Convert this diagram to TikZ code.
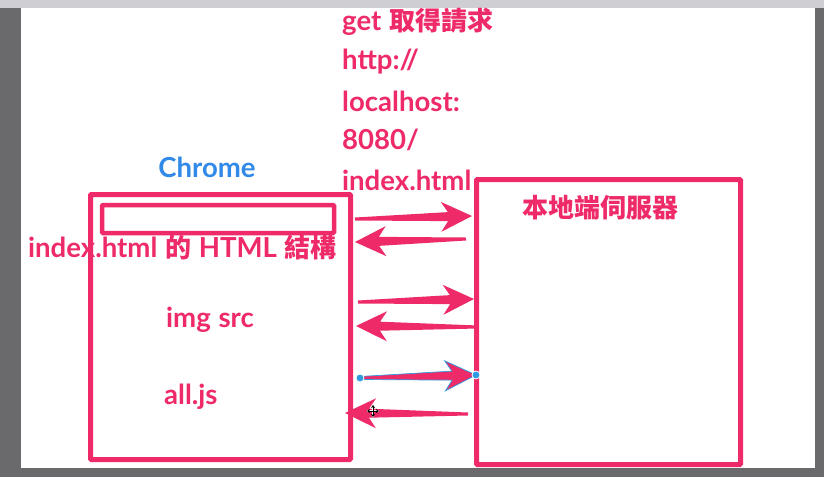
\documentclass[tikz,border=0pt]{standalone}
\usepackage{fontspec}
\setmainfont{Lato}[Scale=1.06, WordSpace=1.15]
\newfontfamily\cjk{Noto Sans CJK TC}
\usetikzlibrary{arrows.meta,positioning,calc}
\definecolor{rose}{RGB}{238,42,104}
\definecolor{chromeblue}{RGB}{50,138,232}
\definecolor{selblue}{RGB}{46,155,224}
\definecolor{deskgray}{RGB}{106,105,108}
\definecolor{bargray}{RGB}{207,206,211}

% tapered keynote-like arrow from #2 (tail) to #3 (tip)
\newcommand{\fatarrow}[3][]{%
  \fill[rose,#1] ($(#2)!1.5pt!90:(#3)$)
    -- ($($(#3)!24pt!(#2)$)!4.5pt!90:(#3)$)
    -- ($($(#3)!31pt!(#2)$)!15pt!90:(#3)$)
    -- (#3)
    -- ($($(#3)!31pt!(#2)$)!15pt!-90:(#3)$)
    -- ($($(#3)!24pt!(#2)$)!4.5pt!-90:(#3)$)
    -- ($(#2)!1.5pt!-90:(#3)$) -- cycle;}

\begin{document}
\begin{tikzpicture}[x=1pt, y=-1pt,
      panel/.style={draw=rose, line width=5pt, rounded corners=1pt,
                    minimum width=#1, inner sep=0pt},
      lbl/.style={font=\fontsize{26}{30}\selectfont\bfseries, text=rose,
                  inner sep=0pt},
      dot/.style={circle, fill=selblue, draw=white, line width=0.8pt,
                  minimum size=8pt, inner sep=0pt}]
    \useasboundingbox (0,0) rectangle (824,477);
    % screen around the slide
    \fill[deskgray] (0,0) rectangle (824,477);
    \fill[bargray] (0,0) rectangle (824,8);
    \fill[white] (21,8) rectangle (815,468);

    % browser and server
    \node[panel=260pt, minimum height=265pt] (browser) at (220.5,327) {};
    \node[panel=232pt, minimum height=28pt, line width=4.5pt] (addr) at (218,219) {};
    \node[panel=264pt, minimum height=285pt] (server) at (608.5,322) {};

    \node[lbl, text=chromeblue] (chrome) at (207,167) {Chrome};
    \node[lbl] (srvname) at (600.5,208) {\cjk 本地端伺服器};
    \node[lbl, anchor=west] (struct) at (28,248) {index.html {\cjk 的} HTML {\cjk 結構}};
    \node[lbl, anchor=west] (img) at (166,320) {img src};
    \node[lbl, anchor=west] (js) at (164,397) {all.js};

    % request text
    \node[lbl, anchor=west] (req1) at (342,22) {get {\cjk 取得請求}};
    \node[lbl, anchor=west] (req2) at (342,62) {http://};
    \node[lbl, anchor=west] (req3) at (342,101) {localhost:};
    \node[lbl, anchor=west] (req4) at (342,140) {8080/};
    \node[lbl, anchor=west] (req5) at (342,180) {index.html};

    % requests and responses
    \coordinate (go1) at (355,219);  \coordinate (hit1) at (472,216);
    \coordinate (back1) at (466,239); \coordinate (ret1) at (355,242);
    \coordinate (go2) at (358,302);  \coordinate (hit2) at (474,299);
    \coordinate (back2) at (478,327); \coordinate (ret2) at (356,326);
    \coordinate (go3) at (360,378);  \coordinate (hit3) at (476,375);
    \coordinate (back3) at (468,414); \coordinate (ret3) at (345,413);

    \fatarrow{go1}{hit1}
    \fatarrow{back1}{ret1}
    \fatarrow{go2}{hit2}
    \fatarrow{back2}{ret2}
    \fatarrow[draw=selblue, line width=0.7pt]{go3}{hit3}
    \fatarrow{back3}{ret3}
    \node[dot] (sel1) at (go3) {};
    \node[dot] (sel2) at (hit3) {};

    % move cursor
    \coordinate (cur) at (373,411);
    \foreach \dx/\dy in {1/0, -1/0, 0/1, 0/-1}
      \draw[white, line width=2.4pt] (cur) -- ++(6*\dx,6*\dy);
    \foreach \dx/\dy in {1/0, -1/0, 0/1, 0/-1}
      \draw[-{Stealth[length=3pt, width=4pt]}, black, line width=1pt]
        (cur) -- ++(6*\dx,6*\dy);
  \end{tikzpicture}
\end{document}
